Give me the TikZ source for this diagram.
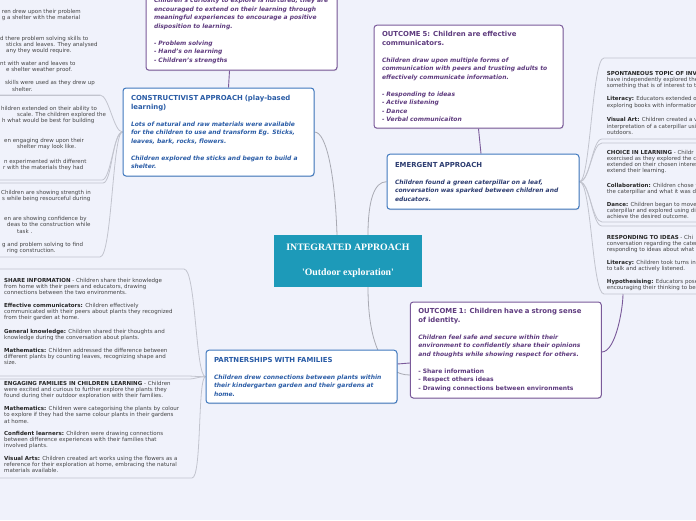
\documentclass[tikz,border=0pt]{standalone}
\usepackage{fontspec}
\setmainfont{DejaVu Sans}[ItalicFont={DejaVu Sans Oblique},BoldItalicFont={DejaVu Sans Bold Oblique}]
\newfontfamily\cenfont{Liberation Serif}
\usetikzlibrary{shadows,backgrounds}
\definecolor{bgc}{HTML}{F0F2FB}
\definecolor{bluebd}{HTML}{3F78BE}
\definecolor{bluetx}{HTML}{2A5CA6}
\definecolor{navytx}{HTML}{2C3C70}
\definecolor{purpbd}{HTML}{7A5A9A}
\definecolor{purptx}{HTML}{5E3B7E}
\definecolor{cteal}{HTML}{1D9AB9}
\definecolor{conn}{HTML}{A9AAB3}
\definecolor{conn2}{HTML}{C2C4CE}
\definecolor{sidetx}{HTML}{444444}
\newcommand{\hdg}{\fontsize{6.9}{8.5}\selectfont\bfseries\upshape}
\newcommand{\lbl}[1]{\textbf{\color{black!85}#1}}
\tikzset{
  box/.style={draw, line width=1pt, fill=white, rounded corners=3pt, align=left,
    inner xsep=8pt, inner ysep=0pt, minimum width=191pt, text width=175pt,
    font=\fontsize{6}{8.5}\selectfont\bfseries\itshape,
    drop shadow={shadow xshift=0.6pt, shadow yshift=-0.9pt, opacity=0.22}},
  bluebox/.style={box, draw=bluebd, text=bluetx},
  purplebox/.style={box, draw=purpbd, text=purptx},
  centralbox/.style={fill=cteal, minimum width=148pt, minimum height=52pt, text=white,
    align=center, inner sep=0pt, font=\cenfont\bfseries\fontsize{9.8}{12.5}\selectfont},
  side/.style={anchor=north west, align=left, inner sep=0pt, text=sidetx,
    font=\fontsize{5.5}{6.2}\selectfont},
  link/.style={draw=conn, line width=0.8pt},
  brace/.style={draw=conn2, line width=0.8pt},
  plink/.style={draw=purpbd, line width=0.9pt},
}
\begin{document}
\begin{tikzpicture}[x=1pt,y=-1pt]
\useasboundingbox (0,0) rectangle (696,520);

% ---------- boxes ----------
\node[purplebox, anchor=south, inner ysep=6.6pt] (topb) at (241.5,70.7)
 {Children's curiosity to explore is nurtured, they are\\
  encouraged to extend on their learning through\\
  meaningful experiences to encourage a positive\\
  disposition to learning.\\[8.5pt]
  - Problem solving\\
  - Hand's on learning\\
  - Children's strengths};

\node[bluebox, minimum height=88pt] (cons) at (218.5,132)
 {{\hdg CONSTRUCTIVIST APPROACH (play-based\\ learning)}\\[8.5pt]
  Lots of natural and raw materials were available\\
  for the children to use and transform Eg. Sticks,\\
  leaves, bark, rocks, flowers.\\[8.5pt]
  Children explored the sticks and began to build a\\
  shelter.};

\node[purplebox, minimum width=189pt, text width=173pt, minimum height=103pt] (o5) at (468.5,76.7)
 {{\hdg OUTCOME 5: Children are effective\\ communicators.}\\[8.5pt]
  Children draw upon multiple forms of\\
  communication with peers and trusting adults to\\
  effectively communicate information.\\[8.5pt]
  - Responding to ideas\\
  - Active listening\\
  - Dance\\
  - Verbal communicaiton};

\node[bluebox, text=navytx, minimum width=192pt, text width=176pt, minimum height=55pt] (emer) at (483,181.7)
 {{\hdg EMERGENT APPROACH}\\[8.5pt]
  Children found a green caterpillar on a leaf,\\
  conversation was sparked between children and\\
  educators.};

\node[centralbox] (central) at (348,261)
 {INTEGRATED APPROACH\\[12.5pt] \char"27 Outdoor exploration\char"27};

\node[bluebox, minimum height=53pt] (part) at (301.5,376.7)
 {{\hdg PARTNERSHIPS WITH FAMILIES}\\[8.5pt]
  Children drew connections between plants within\\
  their kindergarten garden and their gardens at\\
  home.};

\node[purplebox, minimum height=96pt] (o1) at (505.8,350)
 {{\hdg OUTCOME 1: Children have a strong sense\\ of identity.}\\[8.5pt]
  Children feel safe and secure within their\\
  environment to confidently share their opinions\\
  and thoughts while showing respect for others.\\[8.5pt]
  {\upshape - Share information\\
  - Respect others ideas\\
  - Drawing connections between environments}};

% ---------- side texts ----------
\node[side] (g1) at (0,9.4)
 {\hspace*{1.7pt}ren drew upon their problem\\
  \hspace*{1.7pt}g a shelter with the material\\[14.2pt]
  d there problem solving skills to\\
  \hspace*{6pt}sticks and leaves. They analysed\\
  \hspace*{6pt}any they would require.\\[6.5pt]
  nt with water and leaves to\\
  \hspace*{6pt}e shelter weather proof.\\[7pt]
  \hspace*{5pt}skills were used as they drew up\\
  \hspace*{12pt}shelter.};

\node[side] (g2) at (0,106)
 {\hspace*{1pt}hildren extended on their ability to\\
  \hspace*{17pt}scale. The children explored the\\
  \hspace*{2pt}h what would be best for building\\[13.8pt]
  \hspace*{4pt}en engaging drew upon their\\
  \hspace*{17pt}shelter may look like.\\[7.9pt]
  \hspace*{4pt}n experimented with different\\
  \hspace*{3pt}r with the materials they had};

\node[side] (g3) at (0,189.7)
 {\hspace*{1pt}Children are showing strength in\\
  \hspace*{2pt}s while being resourceful during\\[14.3pt]
  \hspace*{4pt}en are showing confidence by\\
  \hspace*{7pt}deas to the construction while\\
  \hspace*{17pt}task .\\[7pt]
  \hspace*{2pt}g and problem solving to find\\
  \hspace*{7pt}ring construction.};

\node[side] (g4) at (4,277.7)
 {\lbl{SHARE INFORMATION} - Children share their knowledge\\
  from home with their peers and educators, drawing\\
  connections between the two environments.\\[6.4pt]
  \lbl{Effective communicators:} Children effectively\\
  communicated with their peers about plants they recognized\\
  from their garden at home.\\[7.4pt]
  \lbl{General knowledge:} Children shared their thoughts and\\
  knowledge during the conversation about plants.\\[6.6pt]
  \lbl{Mathematics:} Children addressed the difference between\\
  different plants by counting leaves, recognizing shape and\\
  size.};

\node[side] (g5) at (4,381)
 {\lbl{ENGAGING FAMILIES IN CHILDREN LEARNING} - Children\\
  were excited and curious to further explore the plants they\\
  found during their outdoor exploration with their families.\\[6.8pt]
  \lbl{Mathematics:} Children were categorising the plants by colour\\
  to explore if they had the same colour plants in their gardens\\
  at home.\\[6pt]
  \lbl{Confident learners:} Children were drawing connections\\
  between difference experiences with their families that\\
  involved plants.\\[6.4pt]
  \lbl{Visual Arts:} Children created art works using the flowers as a\\
  reference for their exploration at home, embracing the natural\\
  materials available.};

\node[side] (r1) at (606.7,71.2)
 {\lbl{SPONTANEOUS TOPIC OF INV}\\
  have independently explored the\\
  something that is of interest to t\\[6.9pt]
  \lbl{Literacy:} Educators extended o\\
  exploring books with information\\[8.6pt]
  \lbl{Visual Art:} Children created a v\\
  interpretation of a caterpillar usi\\
  outdoors.};

\node[side] (r2) at (606.7,149.7)
 {\lbl{CHOICE IN LEARNING} - Childr\\
  exercised as they explored the c\\
  extended on their chosen interes\\
  extend their learning.\\[8.2pt]
  \lbl{Collaboration:} Children chose t\\
  the caterpillar and what it was d\\[6.6pt]
  \lbl{Dance:} Children began to move\\
  caterpillar and explored using di\\
  achieve the desired outcome.};

\node[side] (r3) at (606.7,234.7)
 {\lbl{RESPONDING TO IDEAS} - Chi\\
  conversation regarding the cater\\
  responding to ideas about what\\[6.4pt]
  \lbl{Literacy:} Children took turns in\\
  to talk and actively listened.\\[6.6pt]
  \lbl{Hypothesising:} Educators pose\\
  encouraging their thinking to be};

% ---------- group frame corners ----------
\coordinate (g1L) at (-2,95);   \coordinate (g1R) at (100,95);
\coordinate (g2tL) at (-2,95);  \coordinate (g2tR) at (100,95);
\coordinate (g2bL) at (-2,180); \coordinate (g2bR) at (102,180);
\coordinate (g3tL) at (-2,183); \coordinate (g3tR) at (103,183);
\coordinate (g3bL) at (-2,257); \coordinate (g3bR) at (100,257);
\coordinate (g4tL) at (-2,269); \coordinate (g4tR) at (184,269);
\coordinate (g4bL) at (-2,376); \coordinate (g4bR) at (186,376);
\coordinate (g5tL) at (-2,379); \coordinate (g5tR) at (188,379);
\coordinate (g5bL) at (-2,478); \coordinate (g5bR) at (192,478);
\coordinate (r1tL) at (604,58);  \coordinate (r1tR) at (698,58);
\coordinate (r1bL) at (602,139); \coordinate (r1bR) at (698,139);
\coordinate (r2tL) at (602,143); \coordinate (r2tR) at (698,143);
\coordinate (r2bL) at (602,222); \coordinate (r2bR) at (698,222);
\coordinate (r3tL) at (602,226); \coordinate (r3tR) at (698,226);
\coordinate (r3bL) at (604,294); \coordinate (r3bR) at (698,294);
\coordinate (r3p) at (623,294);

% ---------- background and connectors ----------
\begin{scope}[on background layer]
\fill[bgc] (0,0) rectangle (696,520);
% central links
\path[link] ([xshift=-11pt]central.north) .. controls +(-2,-60) and +(12,0) .. (cons.east);
\path[link] ([xshift=20pt]central.north) .. controls +(0,-35) and +(-12,0) .. (emer.west);
\path[link] ([xshift=20pt]central.south) .. controls +(0,60) and +(-25,0) .. ([yshift=-25pt]o1.west);
% purple links
\path[plink] ([xshift=10pt]cons.north) -- ([xshift=-12pt]topb.south);
\path[plink] ([xshift=-2pt]emer.north) -- ([xshift=10pt]o5.south);
\path[plink] ([yshift=12.7pt]part.east) -- ([yshift=-13pt]o1.west);
\path[plink] ([yshift=-2pt]o1.east) .. controls +(14,0) and +(0,14) .. (r3p);
% left-top group frames
\path[brace] (g1L) -- (g1R);
\path[brace] (g2tL) -- (g2tR) .. controls +(9,0) and +(-9,0) .. (cons.west)
             .. controls +(-9,0) and +(9,0) .. (g2bR) -- (g2bL);
\path[brace] (g3tL) -- (g3tR) .. controls +(9,0) and +(-10,0) .. (cons.west)
             .. controls +(-10,0) and +(12,0) .. (g3bR) -- (g3bL);
% left-bottom group frames
\path[brace] (g4tL) -- (g4tR) .. controls +(12,0) and +(-10,0) .. (part.west)
             .. controls +(-10,0) and +(8,0) .. (g4bR) -- (g4bL);
\path[brace] (g5tL) -- (g5tR) .. controls +(8,0) and +(-8,0) .. (part.west)
             .. controls +(-8,0) and +(10,0) .. (g5bR) -- (g5bL);
% right group frames
\path[brace] (r1tR) -- (r1tL) .. controls +(-12,0) and +(11,0) .. (emer.east)
             .. controls +(11,0) and +(-10,0) .. (r1bL) -- (r1bR);
\path[brace] (r2tR) -- (r2tL) .. controls +(-10,0) and +(10,0) .. (emer.east)
             .. controls +(10,0) and +(-10,0) .. (r2bL) -- (r2bR);
\path[brace] (r3tR) -- (r3tL) .. controls +(-10,0) and +(11,0) .. (emer.east)
             .. controls +(12,0) and +(-12,0) .. (r3bL) -- (r3bR);
\end{scope}
\end{tikzpicture}
\end{document}
